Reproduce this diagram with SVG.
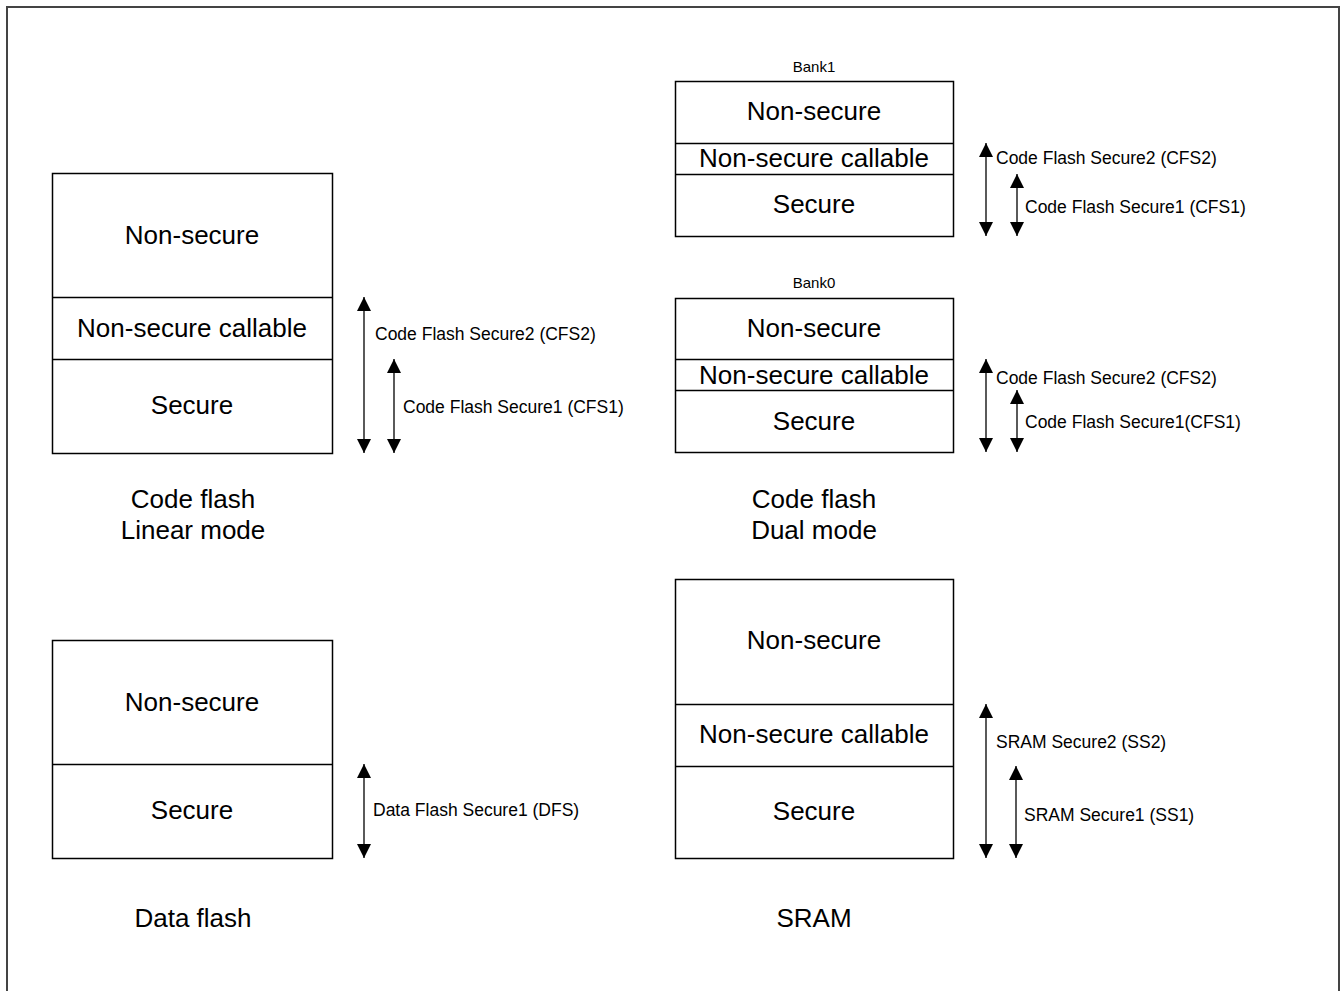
<svg xmlns="http://www.w3.org/2000/svg" width="1341" height="991" viewBox="0 0 1341 991">
<style>
.box{fill:#fff;stroke:#000;stroke-width:1.5}
.div{stroke:#000;stroke-width:1.5}
.big{font-family:"Liberation Sans",Arial,sans-serif;font-size:26px;fill:#000;text-anchor:middle}
.sm{font-family:"Liberation Sans",Arial,sans-serif;font-size:17.5px;fill:#000}
.bank{font-family:"Liberation Sans",Arial,sans-serif;font-size:15px;fill:#000;text-anchor:middle}
.arr{stroke:#000;stroke-width:1.3;fill:none;marker-start:url(#ah);marker-end:url(#ah)}
</style>
<defs>
<marker id="ah" markerUnits="userSpaceOnUse" markerWidth="16" markerHeight="16" viewBox="0 0 16 16" refX="14" refY="8" orient="auto-start-reverse">
<path d="M0,1 L14,8 L0,15 Z" fill="#000"/>
</marker>
</defs>
<rect x="7" y="7" width="1332" height="1000" fill="#fff" stroke="#444" stroke-width="2"/>

<g id="linear">
<rect class="box" x="52.5" y="173.5" width="280" height="280"/>
<line class="div" x1="52.5" y1="297.5" x2="332.5" y2="297.5"/>
<line class="div" x1="52.5" y1="359.5" x2="332.5" y2="359.5"/>
<text class="big" x="192" y="244">Non-secure</text>
<text class="big" x="192" y="337">Non-secure callable</text>
<text class="big" x="192" y="414">Secure</text>
<text class="big" x="193" y="508">Code flash</text>
<text class="big" x="193" y="539">Linear mode</text>
</g>

<g id="dataflash">
<rect class="box" x="52.5" y="640.5" width="280" height="218"/>
<line class="div" x1="52.5" y1="764.5" x2="332.5" y2="764.5"/>
<text class="big" x="192" y="711">Non-secure</text>
<text class="big" x="192" y="819">Secure</text>
<text class="big" x="193" y="927">Data flash</text>
</g>

<g id="bank1">
<text class="bank" x="814" y="72">Bank1</text>
<rect class="box" x="675.5" y="81.5" width="278" height="155"/>
<line class="div" x1="675.5" y1="143.5" x2="953.5" y2="143.5"/>
<line class="div" x1="675.5" y1="174.5" x2="953.5" y2="174.5"/>
<text class="big" x="814" y="120">Non-secure</text>
<text class="big" x="814" y="167">Non-secure callable</text>
<text class="big" x="814" y="213">Secure</text>
</g>

<g id="bank0">
<text class="bank" x="814" y="288">Bank0</text>
<rect class="box" x="675.5" y="298.5" width="278" height="154"/>
<line class="div" x1="675.5" y1="359.5" x2="953.5" y2="359.5"/>
<line class="div" x1="675.5" y1="390.5" x2="953.5" y2="390.5"/>
<text class="big" x="814" y="337">Non-secure</text>
<text class="big" x="814" y="384">Non-secure callable</text>
<text class="big" x="814" y="430">Secure</text>
<text class="big" x="814" y="508">Code flash</text>
<text class="big" x="814" y="539">Dual mode</text>
</g>

<g id="sram">
<rect class="box" x="675.5" y="579.5" width="278" height="279"/>
<line class="div" x1="675.5" y1="704.5" x2="953.5" y2="704.5"/>
<line class="div" x1="675.5" y1="766.5" x2="953.5" y2="766.5"/>
<text class="big" x="814" y="649">Non-secure</text>
<text class="big" x="814" y="743">Non-secure callable</text>
<text class="big" x="814" y="820">Secure</text>
<text class="big" x="814" y="927">SRAM</text>
</g>

<g id="connectors">
<line class="arr" x1="364" y1="297" x2="364" y2="453"/>
<line class="arr" x1="394" y1="359" x2="394" y2="453"/>
<line class="arr" x1="364" y1="764" x2="364" y2="858"/>
<line class="arr" x1="986" y1="143" x2="986" y2="236"/>
<line class="arr" x1="1017" y1="174" x2="1017" y2="236"/>
<line class="arr" x1="986" y1="359" x2="986" y2="452"/>
<line class="arr" x1="1017" y1="390" x2="1017" y2="452"/>
<line class="arr" x1="986" y1="704" x2="986" y2="858"/>
<line class="arr" x1="1016" y1="766" x2="1016" y2="858"/>
</g>

<g id="labels">
<text class="sm" x="375" y="340">Code Flash Secure2 (CFS2)</text>
<text class="sm" x="403" y="413">Code Flash Secure1 (CFS1)</text>
<text class="sm" x="373" y="816">Data Flash Secure1 (DFS)</text>
<text class="sm" x="996" y="164">Code Flash Secure2 (CFS2)</text>
<text class="sm" x="1025" y="213">Code Flash Secure1 (CFS1)</text>
<text class="sm" x="996" y="384">Code Flash Secure2 (CFS2)</text>
<text class="sm" x="1025" y="428">Code Flash Secure1(CFS1)</text>
<text class="sm" x="996" y="748">SRAM Secure2 (SS2)</text>
<text class="sm" x="1024" y="821">SRAM Secure1 (SS1)</text>
</g>
</svg>
